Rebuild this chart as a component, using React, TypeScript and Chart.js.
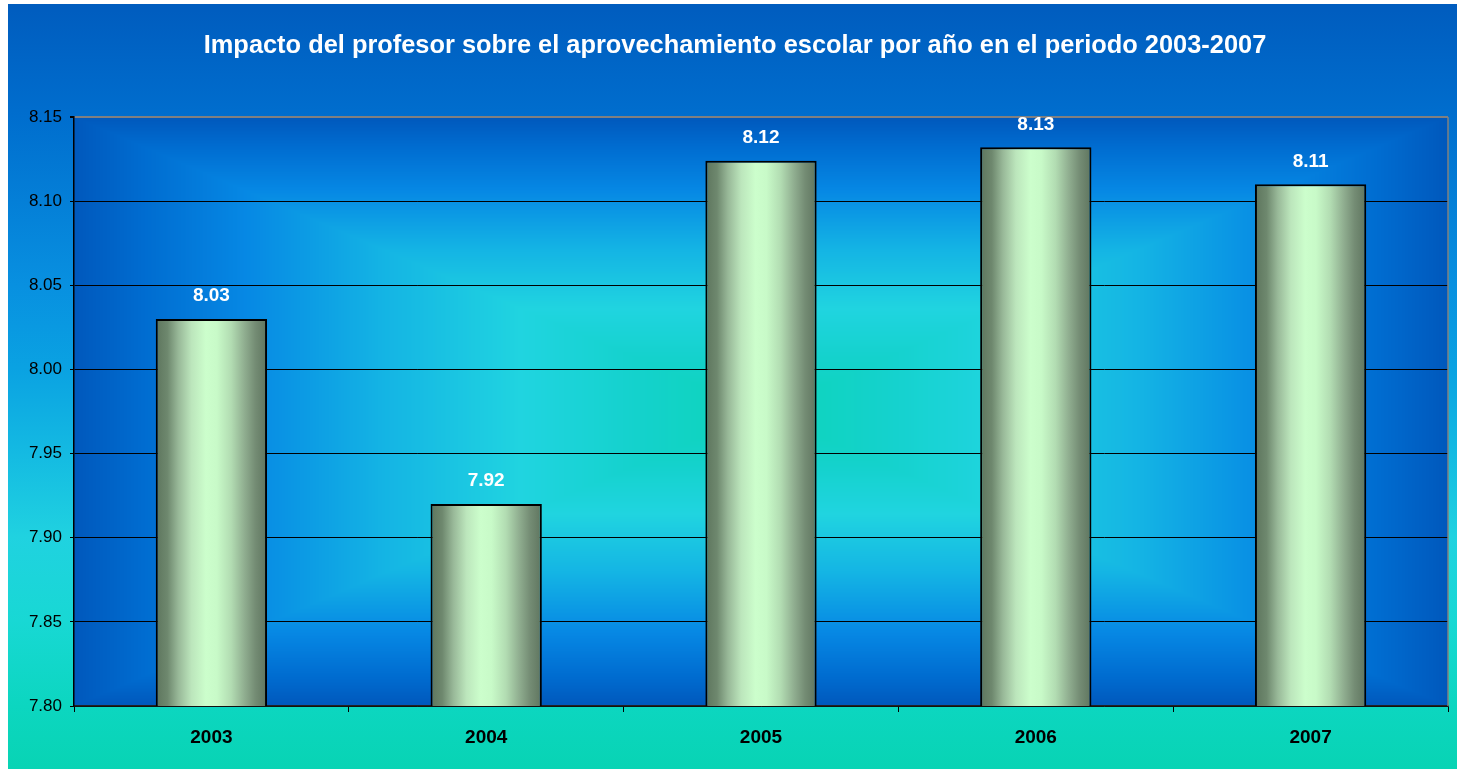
import React, { useEffect, useRef } from "react";
import { Chart, registerables } from "chart.js";

Chart.register(...registerables);

const titleText = "Impacto del profesor sobre el aprovechamiento escolar por año en el periodo 2003-2007";
const categories = ["2003", "2004", "2005", "2006", "2007"];
const values = [8.03, 7.92, 8.124, 8.132, 8.11];
const yMin = 7.8;
const yMax = 8.15;
const yStep = 0.05;

const FONT = "'Liberation Sans', Arial, sans-serif";

function hexToRgb(h: string) {
  const n = parseInt(h.slice(1), 16);
  return [(n >> 16) & 255, (n >> 8) & 255, n & 255];
}

const plotStops: [number, string][] = [
  [0, "#0CD4B8"],
  [0.18, "#14D2CC"],
  [0.35, "#20D4E0"],
  [0.55, "#14B4E4"],
  [0.75, "#0688E4"],
  [0.9, "#006CD0"],
  [1, "#0058BC"],
];

function colorAt(t: number) {
  for (let i = 1; i < plotStops.length; i++) {
    if (t <= plotStops[i][0]) {
      const [t0, c0] = plotStops[i - 1];
      const [t1, c1] = plotStops[i];
      const f = (t - t0) / (t1 - t0);
      const a = hexToRgb(c0);
      const b = hexToRgb(c1);
      return [a[0] + (b[0] - a[0]) * f, a[1] + (b[1] - a[1]) * f, a[2] + (b[2] - a[2]) * f];
    }
  }
  return hexToRgb(plotStops[plotStops.length - 1][1]);
}

let plotCache: { w: number; h: number; c: HTMLCanvasElement } | null = null;
function getPlotImage(w: number, h: number) {
  if (plotCache && plotCache.w === w && plotCache.h === h) return plotCache.c;
  const c = document.createElement("canvas");
  c.width = w;
  c.height = h;
  const cx = c.getContext("2d")!;
  const img = cx.createImageData(w, h);
  const hw = w / 2;
  const hh = h / 2;
  for (let y = 0; y < h; y++) {
    const dy = Math.abs(y + 0.5 - hh) / hh;
    for (let x = 0; x < w; x++) {
      const dx = Math.abs(x + 0.5 - hw) / hw;
      const t = Math.min(1, Math.max(dx, dy));
      const col = colorAt(t);
      const i = (y * w + x) * 4;
      img.data[i] = col[0];
      img.data[i + 1] = col[1];
      img.data[i + 2] = col[2];
      img.data[i + 3] = 255;
    }
  }
  cx.putImageData(img, 0, 0);
  plotCache = { w, h, c };
  return c;
}

const backgroundPlugin = {
  id: "bgPlugin",
  beforeDraw(chart: any) {
    const { ctx, width, height, chartArea } = chart;
    ctx.save();
    const g = ctx.createLinearGradient(0, 0, 0, height);
    g.addColorStop(0, "#005CBE");
    g.addColorStop(0.148, "#006ECE");
    g.addColorStop(0.367, "#0890E0");
    g.addColorStop(0.477, "#0AA2E2");
    g.addColorStop(0.587, "#14BAE2");
    g.addColorStop(0.697, "#20D2E0");
    g.addColorStop(0.806, "#18D8D4");
    g.addColorStop(0.918, "#0CD6C0");
    g.addColorStop(1, "#08D4B4");
    ctx.fillStyle = g;
    ctx.fillRect(0, 0, width, height);
    if (chartArea) {
      const w = Math.round(chartArea.right - chartArea.left);
      const h = Math.round(chartArea.bottom - chartArea.top);
      ctx.drawImage(getPlotImage(w, h), chartArea.left, chartArea.top);
    }
    ctx.restore();
  },
  afterDraw(chart: any) {
    const { ctx, chartArea } = chart;
    ctx.save();
    ctx.strokeStyle = "#808080";
    ctx.lineWidth = 1.5;
    ctx.beginPath();
    ctx.moveTo(chartArea.right, chartArea.top);
    ctx.lineTo(chartArea.right, chartArea.bottom);
    ctx.stroke();
    ctx.restore();
  },
};

const labelPlugin = {
  id: "valueLabels",
  afterDatasetsDraw(chart: any) {
    const { ctx } = chart;
    const meta = chart.getDatasetMeta(0);
    ctx.save();
    ctx.fillStyle = "#FFFFFF";
    ctx.font = `bold 19px ${FONT}`;
    ctx.textAlign = "center";
    ctx.textBaseline = "middle";
    meta.data.forEach((el: any, i: number) => {
      ctx.fillText(values[i].toFixed(2), el.x, el.y - 23);
    });
    ctx.restore();
  },
};

function barGradient(c: any) {
  const chart = c.chart;
  const xs = chart.scales && chart.scales.x;
  if (!xs || c.dataIndex === undefined || !chart.chartArea) return "#C8F8C8";
  const cx = xs.getPixelForValue(c.dataIndex);
  const w = (xs.width / categories.length) * 0.4;
  const g = chart.ctx.createLinearGradient(cx - w / 2, 0, cx + w / 2, 0);
  g.addColorStop(0, "#5E765E");
  g.addColorStop(0.1, "#6E886E");
  g.addColorStop(0.2, "#98B898");
  g.addColorStop(0.32, "#BCE6BC");
  g.addColorStop(0.45, "#CCFECC");
  g.addColorStop(0.55, "#C8FAC8");
  g.addColorStop(0.68, "#B2DCB2");
  g.addColorStop(0.8, "#90AE90");
  g.addColorStop(0.9, "#748C74");
  g.addColorStop(1, "#607660");
  return g;
}

export default function App() {
  const ref = useRef<HTMLCanvasElement>(null);
  useEffect(() => {
    document.body.style.margin = "0";
    document.body.style.background =
      "repeating-linear-gradient(to bottom, #ffffff 0px, #ffffff 1px, #e2e2e2 1px, #e2e2e2 3px)";
    const chart = new Chart(ref.current!, {
      type: "bar",
      data: {
        labels: categories,
        datasets: [
          {
            data: values,
            backgroundColor: barGradient as any,
            borderColor: "#000000",
            borderWidth: 2,
            borderSkipped: false,
            categoryPercentage: 1,
            barPercentage: 0.405,
          },
        ],
      },
      options: {
        responsive: false,
        animation: false,
        layout: { padding: { left: 14, right: 9, top: 0, bottom: 0 } },
        plugins: {
          legend: { display: false },
          tooltip: { enabled: false },
          title: {
            display: true,
            text: titleText,
            color: "#FFFFFF",
            font: { family: FONT, size: 25.4, weight: "bold", lineHeight: 1.2 },
            padding: { top: 27, bottom: 55.5 },
          },
        },
        scales: {
          x: {
            grid: {
              display: true,
              drawOnChartArea: false,
              drawTicks: true,
              tickLength: 6,
              color: "#000000",
              offset: true,
            },
            border: { display: true, color: "#222222", width: 1.5 },
            ticks: {
              color: "#000000",
              font: { family: FONT, size: 19, weight: "bold" },
              padding: 14,
              maxRotation: 0,
            },
            afterFit(scale: any) {
              scale.height = 63;
            },
          },
          y: {
            min: yMin,
            max: yMax,
            grid: {
              color: (c: any) => (c.tick && Math.abs(c.tick.value - yMax) < 1e-6 ? "#808080" : "#000000"),
              lineWidth: (c: any) => (c.tick && Math.abs(c.tick.value - yMax) < 1e-6 ? 2 : 1),
              tickLength: 4,
              tickColor: "#000000",
            },
            border: { display: true, color: "#000000", width: 1.5 },
            ticks: {
              stepSize: yStep,
              color: "#000000",
              font: { family: FONT, size: 17 },
              padding: 8,
              callback: (v: any) => Number(v).toFixed(2),
            },
            afterFit(scale: any) {
              scale.width = 52;
            },
          },
        },
      },
      plugins: [backgroundPlugin, labelPlugin],
    });
    return () => chart.destroy();
  }, []);
  return (
    <div style={{ position: "absolute", left: 8, top: 4, width: 1449, height: 765 }}>
      <canvas ref={ref} width={1449} height={765} style={{ display: "block" }} />
    </div>
  );
}
